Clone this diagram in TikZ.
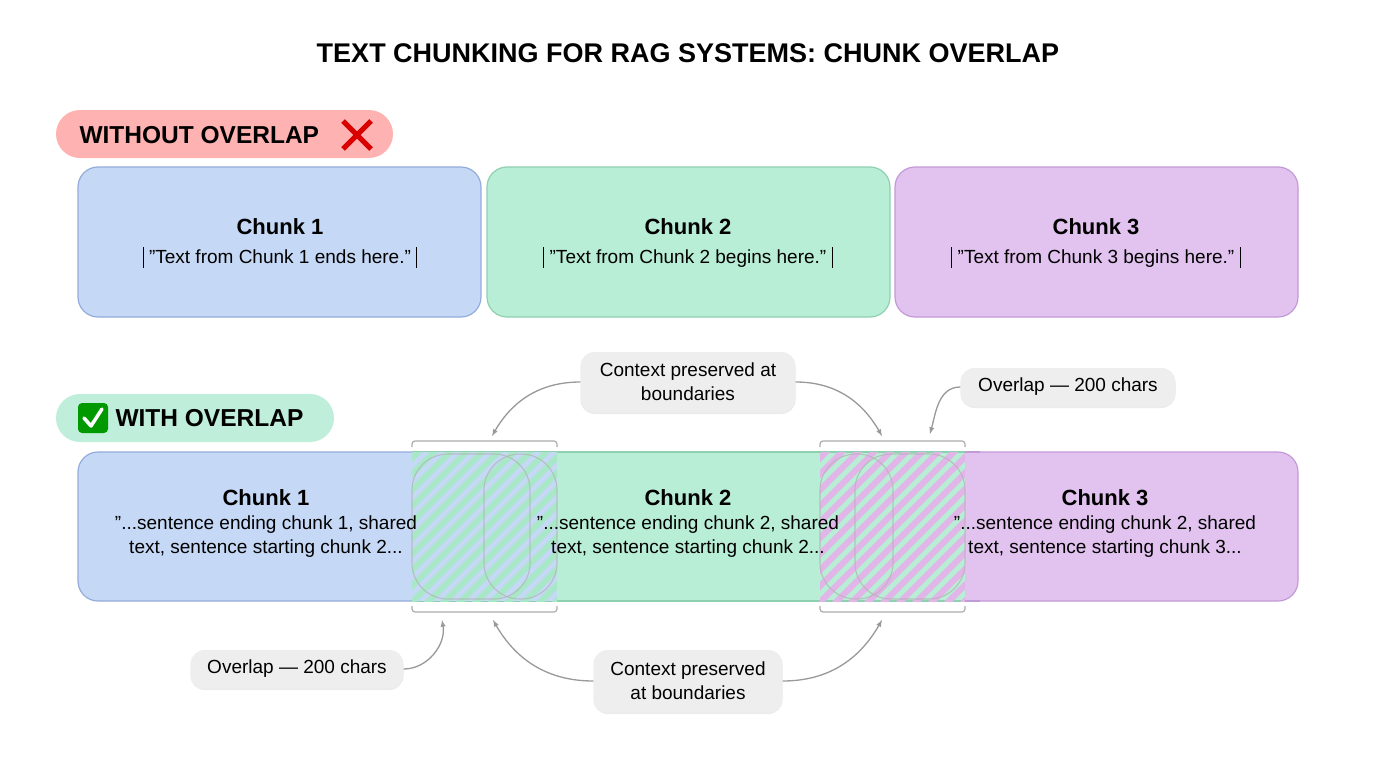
\documentclass[tikz,border=0pt]{standalone}
\usepackage{fontspec}
\setmainfont{Liberation Sans}[Ligatures=ResetAll]
\usetikzlibrary{shadows}
\definecolor{bfill}{HTML}{C5D8F5}\definecolor{bdraw}{HTML}{94ACDA}
\definecolor{gfill}{HTML}{B8EDD6}\definecolor{gdraw}{HTML}{8FD0B0}
\definecolor{pfill}{HTML}{E2C3F0}\definecolor{pdraw}{HTML}{C39AD8}
\definecolor{gstripe}{HTML}{A8E8C8}\definecolor{pstripe}{HTML}{E2B5E8}
\definecolor{callout}{HTML}{EEEEEE}\definecolor{arr}{HTML}{999999}
\newcommand{\qq}{"}
\newcommand{\vb}{\rule[-4pt]{1.2pt}{21pt}}
\begin{document}
\begin{tikzpicture}[x=1pt,y=-1pt,
  ttl/.style={font=\bfseries\fontsize{22}{25}\selectfont},
  body/.style={font=\fontsize{19}{24}\selectfont,align=center},
  call/.style={fill=callout,rounded corners=14pt,font=\fontsize{19}{24}\selectfont,align=center,drop shadow={opacity=0.15,shadow xshift=0pt,shadow yshift=-2pt}},
  conn/.style={draw=arr,line width=1.3pt,-latex},
  brk/.style={draw=arr!80,line width=1.2pt,rounded corners=3pt}]
\useasboundingbox[fill=white] (0,0) rectangle (1376,768);
\node[font=\bfseries\fontsize{27}{30}\selectfont] (title) at (688,53) {TEXT CHUNKING FOR RAG SYSTEMS: CHUNK OVERLAP};
% without overlap
\fill[red!30,rounded corners=24pt] (56,110) rectangle (393,158);
\node[font=\bfseries\fontsize{24.5}{28}\selectfont,anchor=west] (wo) at (76,135) {WITHOUT OVERLAP};
\draw[red!85!black,line width=5pt] (343,121) -- (371,149) (371,121) -- (343,149);
\foreach \n/\x/\f/\d in {a/78/bfill/bdraw,b/487/gfill/gdraw,c/895/pfill/pdraw}
  \draw[fill=\f,draw=\d,line width=1.2pt,rounded corners=20pt] (\x,167) rectangle ++(403,150);
\node[ttl] (t1) at (280,227) {Chunk 1};
\node[body] (s1) at (280,257) {\vb\ \qq Text from Chunk 1 ends here.\qq\ \vb};
\node[ttl] (t2) at (688,227) {Chunk 2};
\node[body] (s2) at (688,257) {\vb\ \qq Text from Chunk 2 begins here.\qq\ \vb};
\node[ttl] (t3) at (1096,227) {Chunk 3};
\node[body] (s3) at (1096,257) {\vb\ \qq Text from Chunk 3 begins here.\qq\ \vb};
% with overlap
\fill[gfill!90,rounded corners=24pt] (56,394) rectangle (334,442);
\fill[green!60!black,rounded corners=4pt] (78,403) rectangle (108,433);
\draw[white,line width=3.5pt,line cap=round,line join=round] (84,418) -- (91,426) -- (102,409);
\node[font=\bfseries\fontsize{24.5}{28}\selectfont,anchor=west] (w) at (112,418) {WITH OVERLAP};
\draw[fill=pfill,draw=pdraw,line width=1.2pt,rounded corners=20pt] (800,452) rectangle (1298,601);
\draw[fill=bfill,draw=bdraw,line width=1.2pt,rounded corners=20pt] (78,452) rectangle (580,601);
\fill[gfill] (412,452) rectangle (965,601);
\draw[gdraw,line width=1.2pt] (412,452) -- (965,452) (412,601) -- (965,601);
\draw[pdraw,line width=1.2pt] (965,452) -- (980,452) (965,601) -- (980,601);
\begin{scope}
\clip (412,452) rectangle (557,601);
\fill[bfill] (412,452) rectangle (557,601);
\foreach \i in {0,16,...,320} \draw[gstripe,line width=6pt] (260+\i,610) -- (260+\i+170,440);
\end{scope}
\begin{scope}
\clip (820,452) rectangle (965,601);
\foreach \i in {0,16,...,320} \draw[pstripe,line width=6pt] (668+\i,610) -- (668+\i+170,440);
\end{scope}
\foreach \a/\b in {412/530,484/557,820/893,855/965}
  \draw[gray!60,line width=1.1pt,opacity=0.7,rounded corners=36pt] (\a,454) rectangle (\b,599);
\node[ttl] (u1) at (266,498) {Chunk 1};
\node[body] (v1) at (266,537) {\qq...sentence ending chunk 1, shared\\text, sentence starting chunk 2...};
\node[ttl] (u2) at (688,498) {Chunk 2};
\node[body] (v2) at (688,537) {\qq...sentence ending chunk 2, shared\\text, sentence starting chunk 2...};
\node[ttl] (u3) at (1105,498) {Chunk 3};
\node[body] (v3) at (1105,537) {\qq...sentence ending chunk 2, shared\\text, sentence starting chunk 3...};
% brackets
\draw[brk] (412,447) -- (412,441) -- (557,441) -- (557,447);
\draw[brk] (820,447) -- (820,441) -- (965,441) -- (965,447);
\draw[brk] (412,606) -- (412,612) -- (557,612) -- (557,606);
\draw[brk] (820,606) -- (820,612) -- (965,612) -- (965,606);
\coordinate (b1t) at (492,436);\coordinate (b2t) at (882,436);\coordinate (b2tr) at (930,434);
\coordinate (b1b) at (442,620);\coordinate (b1bb) at (493,620);\coordinate (b2b) at (882,620);
% callouts
\node[call,minimum width=215pt,minimum height=60pt] (c1) at (688,382) {Context preserved at\\boundaries};
\node[call,minimum width=215pt,minimum height=38pt] (o1) at (1068,387) {Overlap — 200 chars};
\node[call,minimum width=213pt,minimum height=38pt] (o2) at (297,669) {Overlap — 200 chars};
\node[call,minimum width=189pt,minimum height=62pt] (c2) at (688,681) {Context preserved\\at boundaries};
\draw[conn] (c1.west) to[out=180,in=60] (b1t);
\draw[conn] (c1.east) to[out=0,in=120] (b2t);
\draw[conn] (o1.west) to[out=180,in=75] (b2tr);
\draw[conn] (o2.east) to[out=0,in=-80] (b1b);
\draw[conn] (c2.west) to[out=180,in=-60] (b1bb);
\draw[conn] (c2.east) to[out=0,in=-120] (b2b);
\end{tikzpicture}
\end{document}
